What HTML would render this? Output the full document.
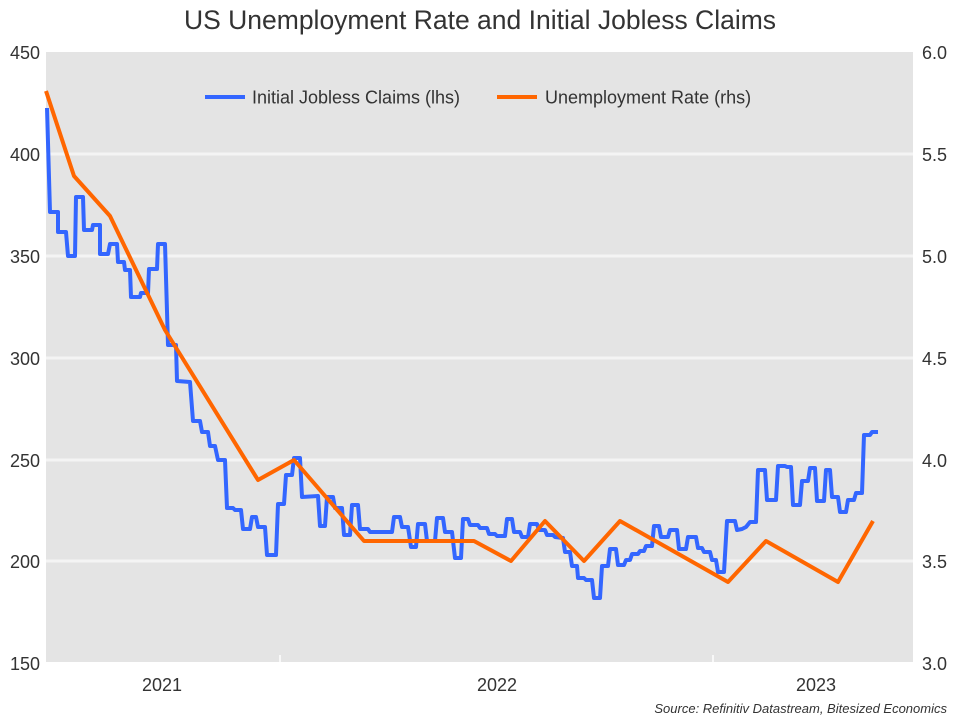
<!DOCTYPE html>
<html><head><style>body{margin:0;background:#fff}svg{display:block;font-family:"Liberation Sans",sans-serif}</style></head><body>
<svg width="960" height="720" xmlns="http://www.w3.org/2000/svg">
<rect x="0" y="0" width="960" height="720" fill="#fff"/>
<rect x="46" y="52" width="867" height="611" fill="#e4e4e4"/>
<g stroke="#f4f4f4" stroke-width="3">
<line x1="46" x2="913" y1="154" y2="154"/><line x1="46" x2="913" y1="256" y2="256"/><line x1="46" x2="913" y1="358" y2="358"/><line x1="46" x2="913" y1="460" y2="460"/><line x1="46" x2="913" y1="561" y2="561"/>
</g>
<line x1="46" x2="913" y1="663" y2="663" stroke="#fff" stroke-width="2"/>
<line x1="280" x2="280" y1="655" y2="663" stroke="#fff" stroke-width="1.5"/>
<line x1="713" x2="713" y1="655" y2="663" stroke="#fff" stroke-width="1.5"/>
<text x="480" y="29" text-anchor="middle" font-size="26.5" fill="#333">US Unemployment Rate and Initial Jobless Claims</text>
<g font-size="18" fill="#333" text-anchor="end">
<text x="40" y="59">450</text><text x="40" y="161">400</text><text x="40" y="263">350</text><text x="40" y="365">300</text><text x="40" y="467">250</text><text x="40" y="568">200</text><text x="40" y="670">150</text>
</g>
<g font-size="18" fill="#333" text-anchor="start">
<text x="922" y="59">6.0</text><text x="922" y="161">5.5</text><text x="922" y="263">5.0</text><text x="922" y="365">4.5</text><text x="922" y="467">4.0</text><text x="922" y="568">3.5</text><text x="922" y="670">3.0</text>
</g>
<g font-size="18" fill="#333" text-anchor="middle">
<text x="162" y="691">2021</text><text x="497" y="691">2022</text><text x="816" y="691">2023</text>
</g>
<text x="947" y="713" text-anchor="end" font-size="13" font-style="italic" fill="#333">Source: Refinitiv Datastream, Bitesized Economics</text>
<line x1="205" x2="245" y1="97" y2="97" stroke="#3366ff" stroke-width="4"/>
<text x="252" y="103.5" font-size="18" fill="#333">Initial Jobless Claims (lhs)</text>
<line x1="497" x2="537" y1="97" y2="97" stroke="#ff6600" stroke-width="4"/>
<text x="545" y="103.5" font-size="18" fill="#333">Unemployment Rate (rhs)</text>
<polyline fill="none" stroke="#3366ff" stroke-width="4" stroke-linejoin="round" points="47,108 50,212 58,212 58,232 66,232 68,256 75,256 76,197 83,197 84,230 92,230 93,225 100,225 100,254 108,254 110,244 117,244 118,262 124,262 125,270 130,270 131,297 140,297 141,293 148,293 149,269 157,269 158,244 165,244 168,345 176,345 177,381 190,382 193,421 200,421 202,432 208,432 210,446 215,446 218,460 225,460 227,508 233,508 235,510 241,510 243,529 250,529 252,517 256,517 258,527 265,527 267,555 276,555 278,504 284,504 286,475 292,475 294,458 300,458 302,497 318,496 320,526 325,526 327,497 333,497 335,508 342,508 344,535 350,535 352,505 358,505 360,529 368,529 370,532 392,532 394,517 400,517 402,527 408,527 411,547 416,547 418,524 425,524 427,541 435,541 437,518 443,518 445,532 452,532 455,558 461,558 463,519 468,519 470,525 478,525 480,528 487,528 489,534 495,534 497,536 505,536 507,519 512,519 514,532 520,532 522,537 528,537 530,524 537,524 539,530 545,530 547,535 553,535 555,537 563,538 565,552 570,552 572,566 577,566 578,578 584,578 586,580 592,580 594,598 600,598 602,566 608,566 610,549 616,549 618,565 624,565 626,560 630,560 632,554 638,554 640,551 644,551 646,546 652,546 654,526 659,526 661,537 668,537 670,530 677,530 679,549 686,549 688,537 696,537 698,548 702,548 704,552 710,552 712,560 716,560 718,572 724,572 727,521 735,521 737,530 742,529 746,527 750,522 756,522 758,470 765,470 767,500 776,500 778,466 785,466 787,467 791,467 793,505 800,505 802,481 808,481 810,468 815,468 817,501 824,501 826,470 830,470 832,497 838,497 840,512 846,512 848,500 854,500 856,493 862,493 864,435 870,435 872,432 878,432"/>
<polyline fill="none" stroke="#ff6600" stroke-width="4" stroke-linejoin="round" points="46,91 74,176 110,216 165,330 258,480 294,460 364,541 474,541 511,561 545,521 584,561 620,521 728,582 766,541 838,582 873,521"/>
</svg>
</body></html>
